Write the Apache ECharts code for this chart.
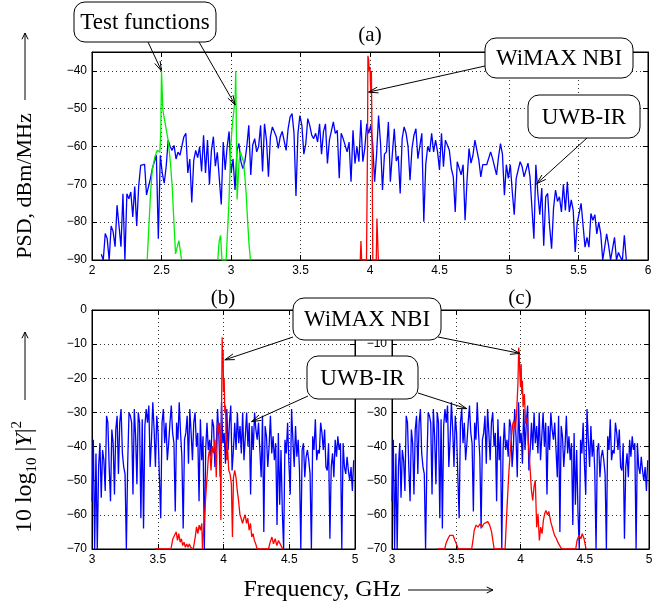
<!DOCTYPE html>
<html><head><meta charset="utf-8">
<script src="https://cdn.jsdelivr.net/npm/echarts@6/dist/echarts.min.js"></script>
<style>html,body{margin:0;padding:0;background:#fff}#c{width:662px;height:613px}</style>
</head><body><div id="c"></div>
<script>
// ---------- DATA ----------
// (a) UWB-IR PSD (dBm/MHz), samples evenly spaced between psdStart and psdEnd (GHz)
const psdStart = 2.067, psdEnd = 5.844;
const psdUwb = [
 -88.5,-90,-83,-84.4,-90,-81,-82.5,-86.5,-75.5,-75.5,-86.5,-72.5,-90,-72.5,-73.8,-72,-78.6,-70.6,-81,-70.6,
 -65,-64.5,-64.7,-72.8,-72.7,-68.4,-65.7,-65.2,-62.3,-84.4,-62.3,-67,-69.7,-65.2,-58.3,-60,-61,-59.7,-63.3,-61.5,
 -62.3,-62,-57.4,-56.5,-67,-63.3,-74.8,-63.7,-61,-62.9,-60,-66.6,-57,-67,-58.3,-70,-61,-57.4,-65.2,-61.5,
 -62,-75.3,-58.8,-66.2,-60,-56,-67,-63.3,
 -71.5,-61,-59.2,-64,-65.8,-64,-60,-54.4,-67.5,-59.6,-57.9,-61.4,-60,-54.4,-66.6,-54,-58.3,-68,-57.4,-54.8,
 -55.3,-57.4,-60.5,-57.4,-56,-56,-61,-55.3,-52.2,-51.3,-56.5,-73.1,-56.5,-51.8,-54.4,-62,-59.2,-52.6,-54.4,-57,
 -57.9,-56.5,-58.8,-54,-62,-56,-54,-64.5,-58.3,-58.3,-53.5,-56.5,-55.7,-68.4,-56.5,-57.9,-58.3,-61.4,-58.8,-69.3,
 -55.7,-64.5,-60,-64,-53,-64,-60.5,-54,-56.5,
 -54.4,-59.2,-69.3,-62,-51.8,-59.2,-71.5,-62,-61.4,-53.5,-69.3,-62,-55.3,-63.8,-62.5,-72.4,-57.9,-54.8,-56.5,-60,
 -68.9,-60.5,-57,-55.3,-63.2,-62.9,-56.5,-79.9,-64.7,-60,-61.4,-56.5,-61.4,-58.3,-61.4,-66.2,-56.5,-65.3,-58.3,-58.8,
 -61,-65.8,-68,-77.3,-64,-63.6,-67.5,-64.8,-79.5,-68.9,-60.5,-64.4,-62.3,-58.3,-58.8,-63.6,-68,-64.8,-65.3,-64.8,
 -65.3,-61.4,-63.2,-62.8,-67.5,-62.8,-59.2,-62,-72.9,-64.8,
 -68.4,-64.8,-71.9,-78,-68.4,-66.2,-64,-65.3,-68,-68,-64.4,-68,-67.5,-84.4,-64.8,-72.4,-78,-71,-86.2,-73.3,
 -72.4,-81.2,-87,-76.2,-71.5,-74.5,-73.3,-77.3,-70,-76.9,-69.3,-77.3,-74.1,-76.9,-87.9,-80.3,-80.7,-75,-74.6,-86.6,
 -84,-86.6,-77.7,-79.5,-78,-83.1,-80,-83.1,-90,-86.6,-83.1,-86.2,-90,-87,-84,-90,-88,-89.3,-90,-83.5,-90
];
// (a) test functions (green)
const test1Freq = [2.397,2.409,2.421,2.433,2.452,2.469,2.488,2.495,2.5,2.51,2.529,2.548,2.565,2.577,2.589,2.601,2.613,2.625,2.637,2.644];
const test1Val  = [-90,-81.3,-72.5,-66.3,-62.8,-61,-61.5,-56,-40,-50.4,-54.4,-58.4,-64.6,-70.7,-79.6,-88.4,-88.8,-84.9,-88,-90];
const test2Freq = [2.905,2.915,2.925,2.935,2.965,2.985,2.998,3.01,3.022,3.03,3.034,3.038,3.044,3.05,3.058,3.068,3.08,3.09,3.1,3.11,3.12,3.13,3.14];
const test2Val  = [-90,-85,-83.5,-90,-90,-75,-60,-54,-50,-47,-40,-40,-74,-74,-64,-61.5,-62,-64,-68,-73,-80,-86,-90];
// (a) WiMAX NBI (red)
const nbiAFreq = [3.93,3.935,3.94,3.975,3.982,3.985,3.99,3.995,4.0,4.005,4.01,4.015,4.02,4.045,4.05,4.055,4.06,4.065];
const nbiAVal  = [-90,-85,-90,-90,-60,-36,-37,-40,-39,-46,-40,-60,-90,-90,-79,-79,-90,-90];

// (b),(c) UWB-IR 10log10|Y|^2 (dB), evenly spaced between panelStart and panelEnd (GHz)
const panelStart = 3.0, panelEnd = 4.99;
const uwbPanel = [
 -56,-38,-70,-42,-70,-46,-39,-55,-41,-44,-53,-31,-33,-46,-56,-35,-39,-54,-35,-31,
 -48,-33,-29,-42,-46,-48,-70,-45,-30,-31,-33,-54,-29,-37,-51,-30,-33,-61,-32,-64,
 -34,-29,-33,-28,-46,-38,-27,-35,-46,-31,-36,-49,-61,-33,-29,-39,-33,-44,-39,-33,
 -28,-36,-39,-59,-33,-38,-27,-36,-43,-64,-38,-36,-31,-45,-29,-36,-44,-33,-30,-40,
 -36,-56,-32,-44,-37,-70,-41,-33,-41,-38,-43,-32,-34,-46,-40,-29,-37,-49,-27,-39,
 -36,-45,-29,-41,-33,-28,-47,-41,-33,-41,-30,-39,-34,-42,-30,-44,-37,-30,-40,-33,
 -54,-34,-41,-30,-35,-38,-33,-41,-49,-31,-65,-34,-37,-46,-40,-31,-42,-37,-44,-39,
 -63,-36,-57,-41,-59,-70,-38,-42,-33,-45,-54,-29,-38,-46,-34,-43,-38,-47,-70,-41,
 -39,-49,-43,-41,-44,-48,-70,-37,-41,-32,-44,-41,-42,-33,-36,-41,-35,-46,-47,-39,
 -67,-46,-42,-49,-38,-43,-37,-41,-39,-70,-39,-46,-48,-43,-47,-50,-46,-53,-44
];
// (b) WiMAX NBI (red)
const nbiBFreq = [3.48,3.6,3.605,3.615,3.63,3.64,3.65,3.66,3.67,3.68,3.69,3.7,3.71,3.72,3.73,3.74,3.75,3.76,3.77,3.785,
 3.795,3.805,3.815,3.825,3.835,3.84,3.85,3.855,3.865,3.875,3.885,3.895,3.905,3.915,3.925,3.935,3.945,3.955,3.965,3.97,
 3.975,3.98,3.985,3.99,3.993,3.997,4.0,4.005,4.01,4.015,4.02,4.025,4.03,4.04,4.05,4.06,4.068,4.076,4.085,4.095,
 4.105,4.115,4.125,4.134,4.145,4.155,4.165,4.175,4.185,4.195,4.205,4.215,4.225,4.235,4.245,4.256,4.342,4.355,4.368,4.38,
 4.393,4.406,4.418,4.431,4.444,4.45];
const nbiBVal = [-70,-70,-69,-67,-66.5,-65,-67.5,-65.5,-68,-67,-69,-68,-69.5,-68.5,-69.5,-68.5,-69.5,-69,-70,-66.5,
 -63.5,-65.5,-63,-64.5,-62.5,-70,-70,-60.5,-54.7,-48.8,-43,-40.5,-47,-40,-42,-38,-49,-33,-36,-33,
 -38,-61.5,-30,-8,-15,-12,-24,-20,-30,-28,-36,-44,-40,-47,-48,-51,-66.5,-49,-47,-49,
 -53,-56,-60,-61,-62.5,-61,-60,-62.5,-61,-64.5,-62.5,-66.5,-65.5,-67.5,-68.5,-70,-70,-68,-66.5,-68.5,
 -67,-69,-67.5,-68.5,-69.5,-70];
// (c) WiMAX NBI (red)
const nbiCFreq = [3.35,3.41,3.42,3.435,3.45,3.46,3.475,3.49,3.5,3.515,3.62,3.63,3.64,3.655,3.67,3.685,3.7,3.715,3.73,3.745,
 3.76,3.775,3.785,3.795,3.88,3.888,3.898,3.909,3.919,3.93,3.94,3.95,3.96,3.97,3.98,3.986,3.99,3.995,4.0,4.005,
 4.01,4.015,4.02,4.03,4.04,4.05,4.06,4.074,4.085,4.095,4.105,4.115,4.126,4.136,4.147,4.157,4.168,4.178,4.188,4.198,
 4.21,4.22,4.235,4.25,4.265,4.28,4.29,4.32,4.43,4.44,4.455,4.47,4.48,4.495,4.51];
const nbiCVal = [-70,-70,-68.4,-67,-66,-66.5,-66,-67.5,-68.4,-70,-70,-67.5,-64.5,-63,-63.6,-62.6,-63.6,-62.6,-63,-62,
 -63,-65,-67.5,-70,-70,-63.6,-55.8,-48,-42,-37.2,-33.3,-32.4,-35.3,-30,-21.6,-11,-12.9,-18.7,-22.6,-15.8,
 -24.6,-20.7,-28.5,-24.6,-33.3,-31.4,-38.2,-46,-52.8,-55.8,-51.8,-49.9,-63.6,-59.7,-67.5,-63.6,-65.5,-61.6,-59.7,-58.7,
 -60,-59,-62,-64,-66,-67,-68,-70,-70,-67.5,-66,-67,-65.5,-67,-70];

// ---------- CHART ----------
const chart = echarts.init(document.getElementById('c'));
const lin = (arr, a, b) => arr.map((v, i) => [a + i * (b - a) / (arr.length - 1), v]);
const zip = (f, v) => f.map((x, i) => [x, v[i]]);
const minus = v => (v < 0 ? '\u2212' + Math.abs(v) : String(v));
const tickFont = {fontFamily: 'Liberation Sans, Arial, sans-serif', fontSize: 12, color: '#000'};
const dotted = {show: true, lineStyle: {color: '#333', type: [1, 3], width: 1}};
const tick = {show: true, inside: true, length: 5, lineStyle: {color: '#000', width: 1}};
const line = {show: true, onZero: false, lineStyle: {color: '#000', width: 1}};

function xMain(gi, min, max) {
  return {type: 'value', gridIndex: gi, min, max, interval: 0.5, position: 'bottom',
    axisLine: line, axisTick: tick, axisLabel: Object.assign({margin: 5}, tickFont), splitLine: dotted};
}
function xTop(gi, min, max) {
  return {type: 'value', gridIndex: gi, min, max, interval: 0.5, position: 'top',
    axisLine: line, axisTick: tick, axisLabel: {show: false}, splitLine: {show: false}};
}
function yMain(gi, min, max, showMax) {
  return {type: 'value', gridIndex: gi, min, max, interval: 10, position: 'left',
    axisLine: line, axisTick: tick, axisLabel: Object.assign({margin: 5, formatter: minus, showMaxLabel: showMax}, tickFont), splitLine: dotted};
}
function yRight(gi, min, max) {
  return {type: 'value', gridIndex: gi, min, max, interval: 10, position: 'right',
    axisLine: line, axisTick: tick, axisLabel: {show: false}, splitLine: {show: false}};
}
function ser(xi, yi, data, color, z) {
  return {type: 'line', xAxisIndex: xi, yAxisIndex: yi, data, symbol: 'none', showSymbol: false,
    lineStyle: {color, width: 1.3}, silent: true, z: z || 2, animation: false, clip: true};
}

chart.setOption({
  animation: false,
  backgroundColor: '#fff',
  grid: [
    {left: 92, top: 52, width: 556, height: 208, show: true, borderColor: '#000', borderWidth: 1},
    {left: 92, top: 310, width: 263, height: 239, show: true, borderColor: '#000', borderWidth: 1},
    {left: 392, top: 310, width: 257, height: 239, show: true, borderColor: '#000', borderWidth: 1}
  ],
  xAxis: [xMain(0, 2, 6), xMain(1, 3, 5), xMain(2, 3, 5), xTop(0, 2, 6), xTop(1, 3, 5), xTop(2, 3, 5)],
  yAxis: [yMain(0, -90, -35, false), yMain(1, -70, 0, true), yMain(2, -70, 0, true), yRight(0, -90, -35), yRight(1, -70, 0), yRight(2, -70, 0)],
  series: [
    ser(0, 0, lin(psdUwb, psdStart, psdEnd), '#0000ff', 2),
    ser(0, 0, zip(test1Freq, test1Val), '#00ee00', 3),
    ser(0, 0, zip(test2Freq, test2Val), '#00ee00', 3),
    ser(0, 0, zip(nbiAFreq, nbiAVal), '#ff0000', 4),
    ser(1, 1, lin(uwbPanel, panelStart, panelEnd), '#0000ff', 2),
    ser(1, 1, zip(nbiBFreq, nbiBVal), '#ff0000', 3),
    ser(2, 2, lin(uwbPanel, panelStart, panelEnd), '#0000ff', 2),
    ser(2, 2, zip(nbiCFreq, nbiCVal), '#ff0000', 3)
  ]
});

// ---------- ANNOTATIONS ----------
const serif = 'Liberation Serif, Times New Roman, serif';
const px = (si, p) => chart.convertToPixel({seriesIndex: si}, p);
const g = [];
function arrow(from, to, L, w) {
  L = L || 10; w = w || 0.3;
  const dx = to[0] - from[0], dy = to[1] - from[1];
  const a = Math.atan2(dy, dx);
  const h1 = [to[0] - L * Math.cos(a - w), to[1] - L * Math.sin(a - w)];
  const h2 = [to[0] - L * Math.cos(a + w), to[1] - L * Math.sin(a + w)];
  g.push({type: 'polyline', z: 100, shape: {points: [from, to]}, style: {stroke: '#000', lineWidth: 1, fill: null}});
  g.push({type: 'polyline', z: 100, shape: {points: [h1, to, h2]}, style: {stroke: '#000', lineWidth: 1, fill: null}});
}
function box(x, y, w, h, text) {
  g.push({type: 'rect', z: 101, shape: {x, y, width: w, height: h, r: 11}, style: {fill: '#fff', stroke: '#000', lineWidth: 1}});
  g.push({type: 'text', z: 102, x: x + w / 2, y: y + h / 2 + 1,
    style: {text, font: '23px ' + serif, fill: '#000', align: 'center', verticalAlign: 'middle', textAlign: 'center', textVerticalAlign: 'middle'}});
}
function label(x, y, text, size, rot) {
  g.push({type: 'text', z: 102, x, y, rotation: rot || 0,
    style: {text, font: size + 'px ' + serif, fill: '#000', align: 'center', verticalAlign: 'middle', textAlign: 'center', textVerticalAlign: 'middle'}});
}

// callout arrows
arrow([148, 42], px(1, [2.5, -40]));
arrow([199, 42], px(2, [3.03, -49]));
arrow([485, 66], px(3, [3.99, -45.6]));
arrow([587, 138], px(0, [5.2, -69.8]));
arrow([293, 337], px(5, [4.01, -14.6]));
arrow([438, 337], px(7, [3.995, -12.7]));
arrow([308, 396], px(4, [4.213, -32.7]));
arrow([418, 393], px(6, [3.582, -28.9]));
// boxes
box(74, 2, 142, 40, 'Test functions');
box(485, 38, 148, 40, 'WiMAX NBI');
box(528, 95, 112, 43, 'UWB-IR');
box(293, 298, 148, 42, 'WiMAX NBI');
box(307, 356, 111, 43, 'UWB-IR');
// panel titles
label(370, 35, '(a)', 21);
label(223, 298, '(b)', 21);
label(520, 298, '(c)', 21);
// axis titles (text) + long arrows
label(322, 590, 'Frequency, GHz', 24);
arrow([408, 590], [493, 590], 7, 0.45);
label(25, 186, 'PSD, dBm/MHz', 22, Math.PI / 2);
arrow([25, 100], [25, 33], 7, 0.45);
g.push({type: 'text', z: 102, x: 25, y: 477, rotation: Math.PI / 2,
  style: {text: '{a|10 log}{s|10}{a| |}{i|Y}{a||}{p|2}', fill: '#000',
    align: 'center', verticalAlign: 'middle', textAlign: 'center', textVerticalAlign: 'middle',
    rich: {
      a: {fontFamily: serif, fontSize: 24, lineHeight: 30, verticalAlign: 'middle'},
      i: {fontFamily: serif, fontSize: 24, fontStyle: 'italic', lineHeight: 30, verticalAlign: 'middle'},
      s: {fontFamily: serif, fontSize: 15, lineHeight: 30, verticalAlign: 'bottom'},
      p: {fontFamily: serif, fontSize: 15, lineHeight: 30, verticalAlign: 'top'}
    }}});
arrow([25, 400], [25, 332], 7, 0.45);

chart.setOption({graphic: g});
</script>
</body></html>
